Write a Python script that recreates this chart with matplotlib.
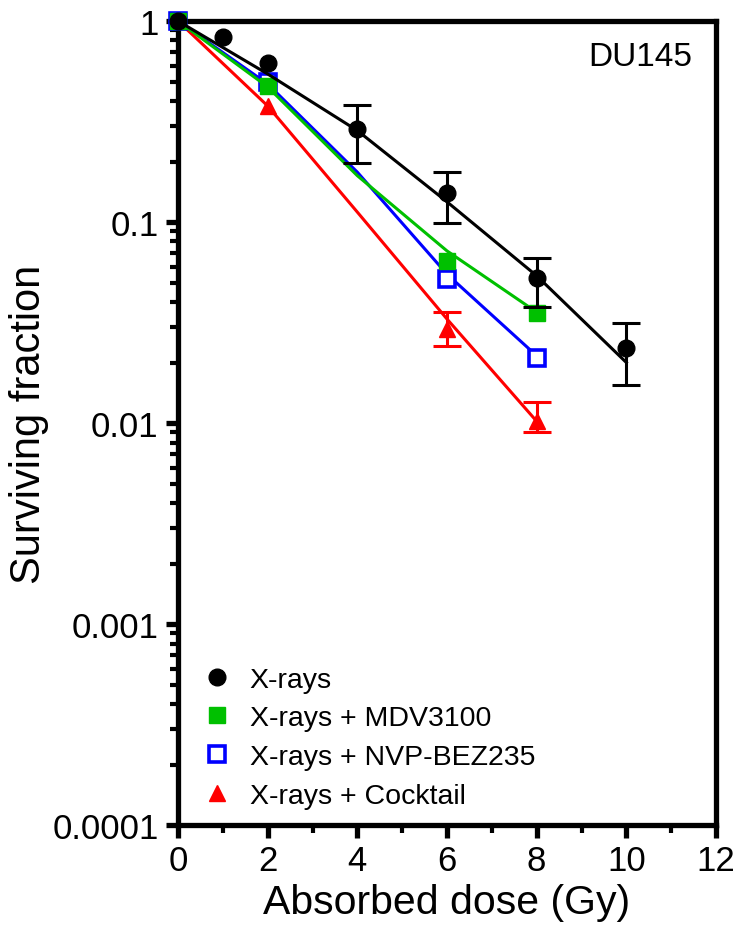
import matplotlib
matplotlib.use("Agg")
import matplotlib.pyplot as plt
from matplotlib.lines import Line2D
from matplotlib.ticker import FixedLocator, LogLocator, NullFormatter

plt.rcParams['font.family'] = ['Liberation Sans', 'DejaVu Sans']

# measured points
dose_x = [0, 1, 2, 4, 6, 8, 10]
sf_x = [1.0, 0.83, 0.62, 0.29, 0.139, 0.0526, 0.0236]
err_lo_x = [0, 0, 0, 0.094, 0.040, 0.015, 0.0082]
err_hi_x = [0, 0, 0, 0.09, 0.038, 0.0134, 0.008]

dose_c = [0, 2, 6, 8]
sf_mdv = [1.0, 0.475, 0.064, 0.0352]
sf_nvp = [1.0, 0.50, 0.052, 0.021]
sf_cock = [1.0, 0.378, 0.0294, 0.0102]
err_lo_cock = [0, 0, 0.0051, 0.0012]
err_hi_cock = [0, 0, 0.0062, 0.0025]

# fitted curves
fit_dose_x = [0, 2, 4, 6, 8, 10]
fit_x = [1.0, 0.545, 0.285, 0.126, 0.054, 0.020]
fit_dose_c = [0, 2, 4, 6, 8]
fit_mdv = [1.0, 0.47, 0.17, 0.0718, 0.0356]
fit_nvp = [1.0, 0.486, 0.177, 0.055, 0.0216]
fit_cock = [1.0, 0.378, 0.112, 0.0329, 0.0102]

labels = ['X-rays', 'X-rays + MDV3100', 'X-rays + NVP-BEZ235', 'X-rays + Cocktail']
green = '#00C000'

fig = plt.figure(figsize=(7.39, 9.45), dpi=100)
ax = fig.add_axes([0.2409, 0.1259, 0.728, 0.8508])
ax.set_yscale('log')
ax.set_xlim(0, 12)
ax.set_ylim(1e-4, 1)

lw = 2.2
eb = dict(capsize=10, capthick=2.2, elinewidth=2.2, clip_on=False)
# red
ax.plot(fit_dose_c, fit_cock, color='red', lw=lw, zorder=2)
ax.errorbar(dose_c, sf_cock, yerr=[err_lo_cock, err_hi_cock], fmt='^', color='red', ms=12,
            errorevery=[e > 0 for e in err_lo_cock], zorder=3, **eb)
# blue
ax.plot(fit_dose_c, fit_nvp, color='blue', lw=lw, zorder=4)
ax.plot(dose_c, sf_nvp, 's', mfc='white', mec='blue', mew=2.6, ms=11, zorder=5, clip_on=False)
# green
ax.plot(fit_dose_c, fit_mdv, color=green, lw=lw, zorder=6)
ax.plot(dose_c, sf_mdv, 's', color=green, ms=11, zorder=7, clip_on=False)
# black
ax.plot(fit_dose_x, fit_x, color='black', lw=lw, zorder=8)
ax.errorbar(dose_x, sf_x, yerr=[err_lo_x, err_hi_x], fmt='o', color='black', ms=12,
            errorevery=[e > 0 for e in err_lo_x], zorder=9, **eb)

for s in ax.spines.values():
    s.set_linewidth(3.8)

ax.xaxis.set_major_locator(FixedLocator(range(0, 13, 2)))
ax.xaxis.set_minor_locator(FixedLocator(range(1, 12, 2)))
ax.yaxis.set_major_locator(FixedLocator([1e-4, 1e-3, 1e-2, 1e-1, 1]))
ax.yaxis.set_minor_locator(LogLocator(base=10, subs=range(2, 10)))
ax.yaxis.set_minor_formatter(NullFormatter())
ax.set_yticklabels(['0.0001', '0.001', '0.01', '0.1', '1'])
ax.tick_params(axis='both', which='major', direction='out', length=9, width=3.8)
ax.tick_params(axis='both', which='minor', direction='out', length=6, width=3)
ax.tick_params(axis='x', labelsize=25, pad=5)
ax.tick_params(axis='y', labelsize=25, pad=5)

ax.set_xlabel('Absorbed dose (Gy)', fontsize=29.5, labelpad=4)
ax.set_ylabel('Surviving fraction', fontsize=30, labelpad=2)
ax.text(0.955, 0.975, 'DU145', transform=ax.transAxes, ha='right', va='top', fontsize=24)

handles = [
    Line2D([], [], ls='none', marker='o', color='black', ms=12),
    Line2D([], [], ls='none', marker='s', color=green, ms=11),
    Line2D([], [], ls='none', marker='s', mfc='white', mec='blue', mew=2.6, ms=11),
    Line2D([], [], ls='none', marker='^', color='red', ms=12),
]
ax.legend(handles, labels, loc='lower left', bbox_to_anchor=(-0.015, -0.012), frameon=False,
          fontsize=20.5, handletextpad=0.4, labelspacing=0.45, handlelength=1.5)

fig.savefig('out.png', dpi=100)
